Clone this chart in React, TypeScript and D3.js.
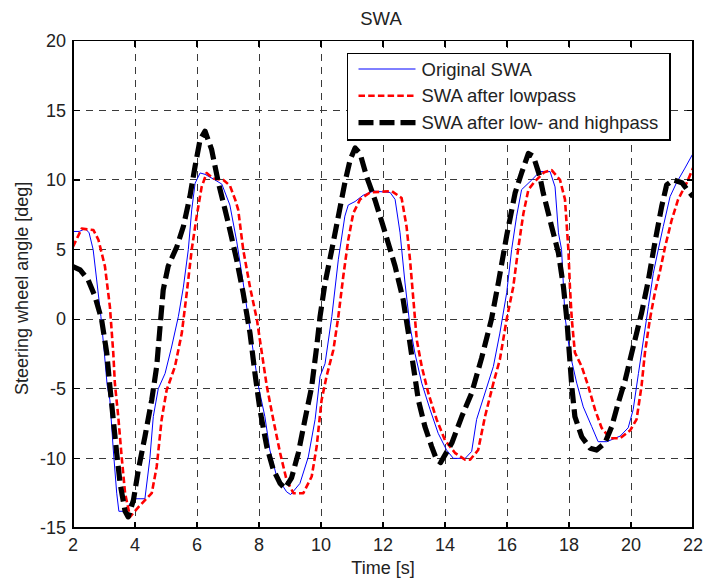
import React from "react";
import * as d3 from "d3";

const xTicks = [2, 4, 6, 8, 10, 12, 14, 16, 18, 20, 22];
const yTicks = [-15, -10, -5, 0, 5, 10, 15, 20];

const originalT = [2, 2.2, 2.4, 2.52, 2.65, 2.9, 3.01, 3.1, 3.19, 3.3, 3.41, 3.48, 3.73, 3.82, 3.95, 4.32, 4.48, 4.59, 4.75, 4.97, 5.18, 5.4, 5.56, 5.72, 5.83, 5.94, 6.1, 6.26, 6.58, 6.8, 7.06, 7.28, 7.49, 7.66, 7.82, 7.98, 8.19, 8.35, 8.57, 8.89, 9.02, 9.32, 9.59, 9.81, 9.97, 10.13, 10.35, 10.56, 10.77, 10.88, 11.1, 11.36, 11.69, 12.23, 12.39, 12.55, 12.71, 12.87, 13.03, 13.25, 13.52, 13.78, 14.05, 14.27, 14.65, 14.86, 15.02, 15.29, 15.56, 15.77, 15.99, 16.15, 16.31, 16.47, 16.8, 17.06, 17.39, 17.55, 17.66, 17.76, 17.87, 18.03, 18.25, 18.46, 18.73, 18.94, 19.22, 19.65, 19.91, 20.07, 20.24, 20.4, 20.56, 20.72, 20.88, 21.04, 21.26, 21.47, 21.74, 22];
const originalV = [6.3, 6.3, 6.5, 6.2, 5.0, 0.2, -2.4, -4.7, -5.8, -9.4, -12.5, -13.8, -13.8, -13.3, -12.9, -12.9, -10.0, -7.0, -5.0, -3.9, -2.0, 0.2, 2.3, 5.0, 7.85, 9.77, 10.5, 10.4, 10.0, 9.7, 8.2, 5.6, 2.6, 0.0, -2.4, -4.8, -7.0, -9.4, -11.3, -12.4, -12.6, -11.8, -9.9, -7.2, -4.1, -3.2, 0.2, 4.3, 7.4, 8.2, 8.45, 8.9, 9.2, 9.1, 8.6, 6.2, 2.6, -0.5, -2.45, -4.6, -6.5, -8.2, -9.4, -10.0, -10.0, -9.5, -7.2, -5.3, -3.4, -1.0, 1.9, 5.0, 7.4, 9.3, 10.0, 10.6, 10.6, 9.5, 6.2, 5.0, 0.2, -2.45, -4.6, -6.3, -7.7, -8.8, -8.8, -8.4, -7.8, -6.5, -3.9, -1.5, 0.9, 3.3, 5.0, 6.65, 8.8, 9.8, 10.85, 11.9];

const lowpassT = [2, 2.28, 2.66, 2.82, 3.03, 3.19, 3.3, 3.35, 3.46, 3.57, 3.68, 3.84, 4.11, 4.54, 4.7, 4.86, 5.02, 5.29, 5.51, 5.67, 5.83, 5.99, 6.15, 6.31, 6.53, 6.85, 7.06, 7.23, 7.33, 7.49, 7.71, 7.93, 8.09, 8.25, 8.46, 8.68, 8.89, 9.11, 9.43, 9.7, 9.86, 10.02, 10.18, 10.4, 10.56, 10.72, 10.88, 11.04, 11.26, 11.58, 12.28, 12.6, 12.76, 12.87, 12.98, 13.09, 13.25, 13.46, 13.73, 14.0, 14.32, 14.65, 14.81, 15.07, 15.29, 15.56, 15.77, 15.99, 16.2, 16.37, 16.53, 16.69, 16.9, 17.2, 17.44, 17.71, 17.87, 17.98, 18.03, 18.09, 18.19, 18.41, 18.62, 18.84, 19.05, 19.32, 19.65, 19.97, 20.18, 20.34, 20.45, 20.61, 20.77, 20.94, 21.1, 21.31, 21.52, 21.8, 22];
const lowpassV = [5.2, 6.5, 6.4, 5.7, 3.8, 0.9, -2.45, -4.6, -7.0, -9.9, -12.5, -14.2, -13.5, -12.5, -10.6, -7.2, -5.1, -3.4, -1.0, 1.9, 5.0, 7.4, 9.5, 10.5, 10.1, 10.0, 9.6, 8.6, 7.85, 5.0, 2.3, 0.0, -2.4, -4.8, -7.2, -9.6, -11.55, -12.5, -12.5, -11.3, -9.15, -5.8, -4.1, -2.2, 0.2, 3.1, 5.7, 7.6, 8.6, 9.1, 9.2, 8.7, 6.65, 4.3, 1.4, -1.5, -3.4, -5.3, -7.2, -8.7, -9.6, -10.1, -10.1, -9.4, -7.0, -4.6, -2.9, 0.0, 2.3, 5.2, 7.6, 9.3, 9.9, 10.55, 10.7, 10.0, 8.6, 5.0, 2.3, 0.0, -2.4, -3.4, -4.8, -6.5, -7.8, -8.55, -8.55, -8.0, -7.2, -4.8, -2.4, 0.0, 1.9, 3.5, 5.2, 7.1, 8.6, 9.8, 10.85];

const bandpassT = [2, 2.23, 2.49, 2.71, 2.92, 3.09, 3.19, 3.3, 3.41, 3.52, 3.68, 3.78, 3.95, 4.11, 4.32, 4.54, 4.7, 4.81, 4.91, 5.07, 5.35, 5.56, 5.77, 5.94, 6.1, 6.26, 6.47, 6.69, 7.01, 7.28, 7.49, 7.71, 7.87, 8.03, 8.25, 8.46, 8.68, 8.84, 9.05, 9.27, 9.48, 9.7, 9.86, 9.97, 10.13, 10.35, 10.56, 10.77, 10.94, 11.1, 11.26, 11.47, 11.74, 12.03, 12.23, 12.39, 12.65, 12.82, 12.98, 13.14, 13.35, 13.57, 13.73, 13.86, 14.22, 14.54, 14.86, 15.18, 15.5, 15.72, 15.99, 16.26, 16.47, 16.69, 16.85, 17.06, 17.17, 17.44, 17.66, 17.82, 17.93, 18.01, 18.09, 18.19, 18.41, 18.68, 18.89, 19.16, 19.38, 19.59, 19.81, 20.07, 20.34, 20.56, 20.77, 20.99, 21.15, 21.37, 21.64, 21.85, 22];
const bandpassV = [3.78, 3.54, 2.82, 1.63, 0.0, -2.44, -4.84, -7.24, -9.63, -11.8, -13.8, -14.2, -13.0, -10.8, -8.44, -5.8, -3.4, -0.5, 2.1, 3.8, 5.2, 6.65, 8.8, 11.0, 12.9, 13.5, 12.2, 9.8, 6.9, 4.26, 1.87, -1.0, -3.9, -6.5, -9.15, -10.8, -11.8, -12.15, -11.4, -9.6, -7.24, -4.84, -2.0, 0.2, 2.6, 5.0, 7.4, 9.8, 11.45, 12.3, 11.9, 10.25, 8.57, 6.5, 5.0, 3.8, 1.4, -1.0, -3.4, -5.8, -7.7, -9.15, -10.1, -10.3, -8.9, -7.0, -5.3, -2.8, 0.0, 2.6, 6.0, 9.05, 10.5, 11.9, 11.7, 10.25, 9.05, 6.65, 4.74, 2.34, 0.0, -2.44, -4.84, -7.0, -8.44, -9.27, -9.4, -8.9, -7.7, -6.0, -4.4, -2.0, 0.43, 2.8, 5.5, 8.1, 9.65, 10.0, 9.8, 9.2, 8.8];

const legendLabels = ["Original SWA", "SWA after lowpass", "SWA after low- and highpass"];

const FONT = "'Liberation Sans', Arial, Helvetica, sans-serif";

export default function App() {
  const W = 705;
  const H = 579;
  const left = 73;
  const right = 693;
  const top = 40.7;
  const bottom = 528;
  const x = d3.scaleLinear().domain([2, 22]).range([left, right]);
  const y = d3.scaleLinear().domain([-15, 20]).range([bottom, top]);

  const mk = (ts: number[], vs: number[]) =>
    d3
      .line<number>()
      .x((_, i) => x(ts[i]))
      .y((_, i) => y(vs[i]))(ts.map((_, i) => i)) || "";

  const series = [
    { d: mk(originalT, originalV), stroke: "#0000ff", w: 1, dash: undefined as string | undefined },
    { d: mk(lowpassT, lowpassV), stroke: "#ff0000", w: 2.6, dash: "6.5,3.2" },
    { d: mk(bandpassT, bandpassV), stroke: "#000000", w: 5.2, dash: "15,6" },
  ];

  const gridColor = "#3a3a3a";
  const tickLen = 6.5;

  return (
    <svg width={W} height={H} style={{ position: "absolute", left: 0, top: 0, background: "#fff" }}>
      <rect x={0} y={0} width={W} height={H} fill="#fff" />
      <text x={(left + right) / 2 - 2} y={25} fontFamily={FONT} fontSize={18.5} textAnchor="middle" fill="#222">
        SWA
      </text>
      {/* grid */}
      <g shapeRendering="crispEdges">
        {xTicks.slice(1, -1).map((t) => (
          <line key={"gx" + t} x1={x(t)} x2={x(t)} y1={top} y2={bottom} stroke={gridColor} strokeWidth={1} strokeDasharray="7,6" />
        ))}
        {yTicks.slice(1, -1).map((t) => (
          <line key={"gy" + t} x1={left} x2={right} y1={y(t)} y2={y(t)} stroke={gridColor} strokeWidth={1} strokeDasharray="7,6" />
        ))}
      </g>
      {/* series */}
      <defs>
        <clipPath id="plotclip">
          <rect x={left} y={top} width={right - left} height={bottom - top} />
        </clipPath>
      </defs>
      <g clipPath="url(#plotclip)" fill="none">
        {series.map((s, i) => (
          <path key={i} d={s.d} stroke={s.stroke} strokeWidth={s.w} strokeDasharray={s.dash} strokeLinejoin="round" />
        ))}
      </g>
      {/* frame and ticks */}
      <g shapeRendering="crispEdges" stroke="#000" strokeWidth={1.2}>
        <rect x={left} y={top} width={right - left} height={bottom - top} fill="none" />
        {xTicks.map((t) => (
          <g key={"tx" + t}>
            <line x1={x(t)} x2={x(t)} y1={bottom} y2={bottom - tickLen} />
            <line x1={x(t)} x2={x(t)} y1={top} y2={top + tickLen} />
          </g>
        ))}
        {yTicks.map((t) => (
          <g key={"ty" + t}>
            <line x1={left} x2={left + tickLen} y1={y(t)} y2={y(t)} />
            <line x1={right} x2={right - tickLen} y1={y(t)} y2={y(t)} />
          </g>
        ))}
      </g>
      {/* tick labels */}
      <g fontFamily={FONT} fontSize={18} fill="#222">
        {xTicks.map((t) => (
          <text key={"lx" + t} x={x(t)} y={551} textAnchor="middle">
            {t}
          </text>
        ))}
        {yTicks.map((t) => (
          <text key={"ly" + t} x={66} y={y(t) + 6.3} textAnchor="end">
            {t}
          </text>
        ))}
      </g>
      <text x={(left + right) / 2} y={574} fontFamily={FONT} fontSize={18} textAnchor="middle" fill="#222">
        Time [s]
      </text>
      <text
        transform={`translate(28, ${(top + bottom) / 2 + 4}) rotate(-90)`}
        fontFamily={FONT}
        fontSize={18}
        textAnchor="middle"
        fill="#222"
      >
        Steering wheel angle [deg]
      </text>
      {/* legend */}
      <g>
        <rect x={347.5} y={53.5} width={322.5} height={86.5} fill="#fff" stroke="#000" strokeWidth={1.2} shapeRendering="crispEdges" />
        {legendLabels.map((lab, i) => {
          const ly = 69 + i * 26.8;
          const s = series[i];
          return (
            <g key={lab}>
              <line x1={358.5} x2={415.5} y1={ly} y2={ly} stroke={s.stroke} strokeWidth={s.w} strokeDasharray={s.dash} />
              <text x={421.5} y={ly + 6.6} fontFamily={FONT} fontSize={18.5} fill="#222">
                {lab}
              </text>
            </g>
          );
        })}
      </g>
    </svg>
  );
}
